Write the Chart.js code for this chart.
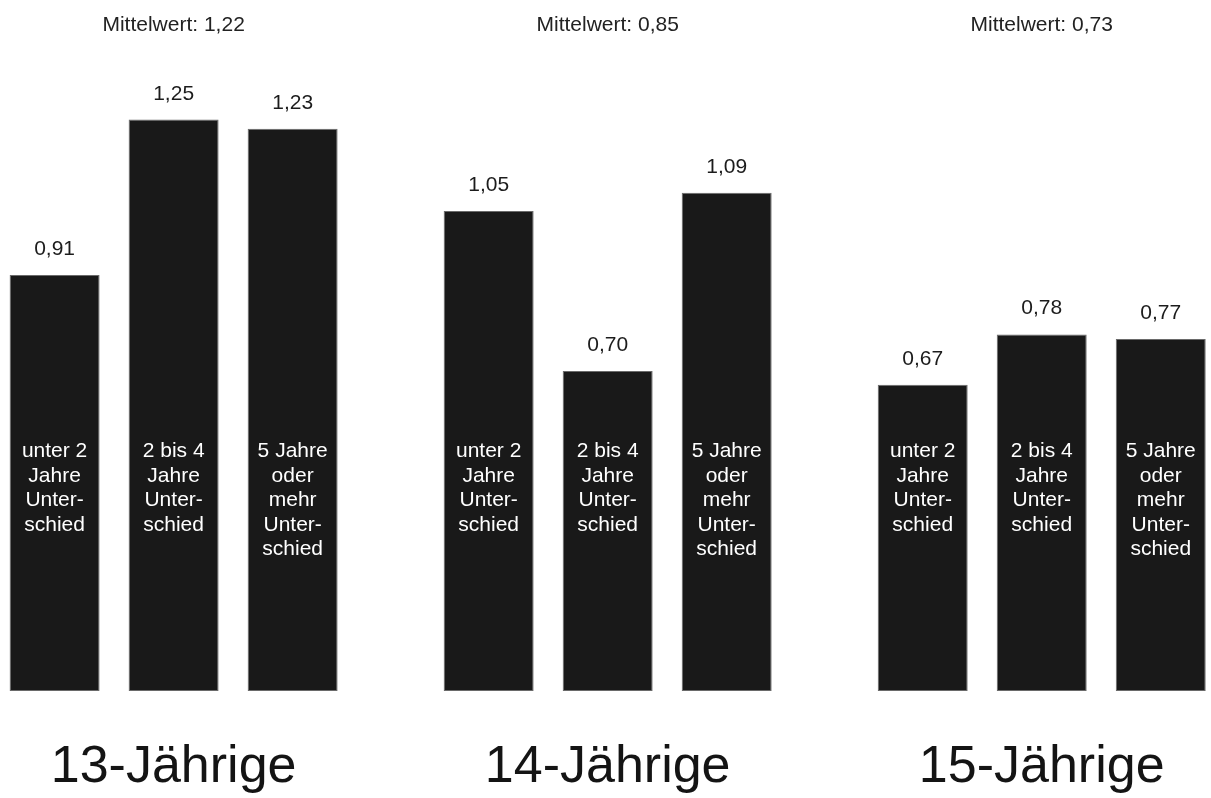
<!DOCTYPE html>
<html lang="de">
<head>
<meta charset="utf-8">
<title>Mittelwerte nach Altersgruppe und Altersunterschied</title>
<script src="https://cdn.jsdelivr.net/npm/chart.js@4.4.1/dist/chart.umd.min.js"></script>
<style>
  html, body { margin: 0; padding: 0; background: #ffffff; }
  #wrap { width: 1211px; height: 798px; }
</style>
</head>
<body>
<div id="wrap"><canvas id="chart" width="1211" height="798"></canvas></div>
<script>
// Altersgruppen (x-Achse) und die angegebenen Mittelwerte je Gruppe
const groups = ['13-Jährige', '14-Jährige', '15-Jährige'];
const means = [1.22, 0.85, 0.73];

// Altersunterschied – Beschriftung innerhalb der Balken, zeilenweise
const seriesNames = [
  ['unter 2', 'Jahre', 'Unter-', 'schied'],
  ['2 bis 4', 'Jahre', 'Unter-', 'schied'],
  ['5 Jahre', 'oder', 'mehr', 'Unter-', 'schied']
];

// Werte je Altersunterschied, in der Reihenfolge der Altersgruppen
const under2 = [0.91, 1.05, 0.67];
const from2to4 = [1.25, 0.70, 0.78];
const over5 = [1.23, 1.09, 0.77];

const seriesValues = [under2, from2to4, over5];

const FONT = '"Liberation Sans", Arial, Helvetica, sans-serif';
const fmt = v => v.toFixed(2).replace('.', ',');

const AXIS_LABEL_PAD = 43;
const AXIS_LABEL_SIZE = 52;

const barTexts = {
  id: 'barTexts',
  afterDatasetsDraw(chart) {
    const { ctx, chartArea, scales } = chart;
    ctx.save();
    ctx.textAlign = 'center';
    ctx.textBaseline = 'alphabetic';
    chart.data.datasets.forEach((ds, di) => {
      const meta = chart.getDatasetMeta(di);
      meta.data.forEach((bar, i) => {
        // Wert über dem Balken
        ctx.fillStyle = '#1c1c1c';
        ctx.font = '21px ' + FONT;
        ctx.fillText(fmt(ds.data[i].y), bar.x, bar.y - 20);
        // Kategorie im Balken
        ctx.fillStyle = '#ffffff';
        ctx.font = '21px ' + FONT;
        seriesNames[di].forEach((line, li) => {
          ctx.fillText(line, bar.x, chartArea.bottom - 234 + li * 24.5);
        });
      });
    });
    // Mittelwert je Altersgruppe
    ctx.fillStyle = '#222222';
    ctx.font = '21px ' + FONT;
    means.forEach((m, i) => {
      ctx.fillText('Mittelwert: ' + fmt(m), scales.x.getPixelForValue(i), 31);
    });
    ctx.restore();
  }
};

const datasets = seriesValues.map((vals, si) => ({
  label: seriesNames[si].join(' '),
  data: vals.map((v, gi) => ({ x: gi, y: v })),
  backgroundColor: '#191919',
  borderColor: '#6a6a6a',
  borderWidth: 1,
  borderSkipped: false,
  categoryPercentage: 0.8226,
  barPercentage: 0.756
}));

new Chart(document.getElementById('chart'), {
  type: 'bar',
  data: { datasets },
  options: {
    responsive: false,
    animation: false,
    layout: { padding: { top: 51, bottom: 3, left: 0, right: 0 } },
    plugins: {
      legend: { display: false },
      tooltip: { enabled: false }
    },
    scales: {
      x: {
        type: 'linear',
        offset: false,
        min: -0.4,
        max: 2.39,
        grid: { display: false },
        border: { display: false },
        afterBuildTicks: scale => {
          scale.ticks = groups.map((_, i) => ({ value: i }));
        },
        // Höhe der Achse: Abstand plus eine Zeile Beschriftung
        afterFit: scale => {
          scale.height = AXIS_LABEL_PAD + 61;
        },
        ticks: {
          padding: AXIS_LABEL_PAD,
          color: '#141414',
          font: { family: FONT, size: AXIS_LABEL_SIZE, lineHeight: 1 },
          maxRotation: 0,
          autoSkip: false,
          callback: value => groups[value] ?? ''
        }
      },
      y: {
        display: false,
        min: 0,
        max: 1.4
      }
    }
  },
  plugins: [barTexts]
});
</script>
</body>
</html>
